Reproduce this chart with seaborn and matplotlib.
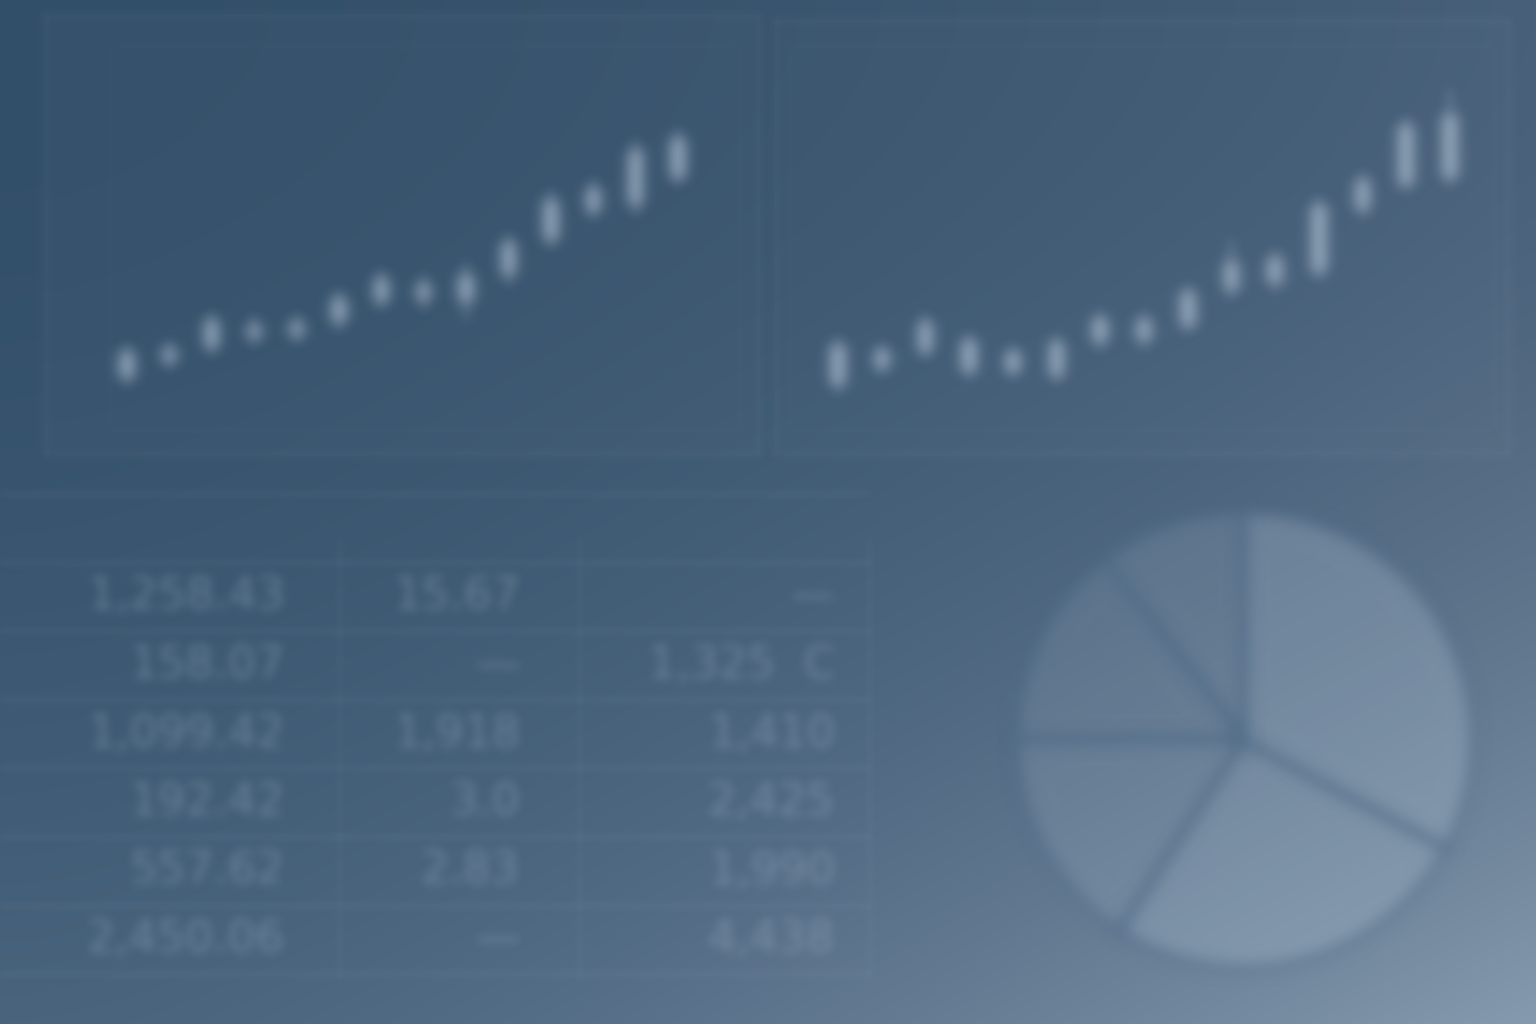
import numpy as np
import matplotlib
matplotlib.use("Agg")
import matplotlib.pyplot as plt
import seaborn as sns

# ---------------- data ----------------
left_open  = [15.5, 19.5, 23.0, 28.75, 26.0, 29.5, 34.5, 39.0, 34.5, 41.25, 50.0, 63.0, 58.75, 65.5]
left_close = [22.0, 23.0, 30.0, 25.5, 29.5, 35.5, 40.5, 35.0, 41.25, 49.5, 60.0, 57.0, 72.5, 75.5]
left_high  = [23.75, 24.5, 31.5, 31.0, 31.25, 37.5, 42.5, 41.25, 44.5, 51.25, 62.5, 65.0, 75.0, 77.5]
left_low   = [13.75, 18.0, 21.5, 23.75, 24.5, 27.5, 33.0, 32.5, 30.0, 38.75, 48.0, 55.5, 56.25, 63.75]

right_open  = [13.75, 18.0, 22.0, 25.0, 22.0, 16.0, 24.5, 30.0, 28.5, 37.5, 45.5, 42.0, 57.5, 63.75, 65.5]
right_close = [23.75, 22.5, 29.5, 17.0, 17.0, 24.5, 30.5, 25.0, 37.0, 44.5, 39.25, 58.75, 65.0, 78.75, 81.25]
right_high  = [25.5, 24.0, 31.25, 26.5, 23.5, 26.0, 32.0, 32.0, 38.75, 50.0, 47.5, 60.5, 67.0, 80.5, 87.5]
right_low   = [12.0, 16.5, 20.5, 15.5, 15.5, 14.5, 22.5, 23.0, 27.0, 35.5, 37.5, 40.0, 56.0, 62.5, 63.75]

table_col1 = ["1,258.43", "158.07", "1,099.42", "192.42", "557.62", "2,450.06"]
table_col2 = ["15.67", "—", "1,918", "3.0", "2.83", "—"]
table_col3 = ["—", "1,325  C", "1,410", "2,425", "1,990", "4,438"]

pie_shares = [10.6, 14.4, 15.8, 26.4, 32.8]

# ---------------- helpers ----------------
W_PX, H_PX = 1536, 1024


def rect(l, t, r, b):
    return [l / W_PX, 1 - b / H_PX, (r - l) / W_PX, (b - t) / H_PX]


def blur(sigma):
    def filt(im, dpi):
        s = sigma * dpi / 100.0
        pad = int(np.ceil(3 * s))
        k = np.exp(-0.5 * (np.arange(-pad, pad + 1) / s) ** 2)
        k /= k.sum()
        p = np.pad(im, ((pad, pad), (pad, pad), (0, 0)))
        a = p[..., 3:4]
        pm = np.concatenate([p[..., :3] * a, a], axis=2)
        for axis in (0, 1):
            out = np.zeros_like(pm)
            for i, w in enumerate(k):
                out += w * np.roll(pm, i - pad, axis=axis)
            pm = out
        a2 = pm[..., 3:4]
        rgb = pm[..., :3] / np.maximum(a2, 1e-6)
        res = np.concatenate([np.clip(rgb, 0, 1), a2], axis=2)
        return res, -pad, -pad
    return filt


sns.set_theme(style="white")
plt.rcParams["font.family"] = ["DejaVu Sans"]

fig = plt.figure(figsize=(15.36, 10.24), dpi=100)

# ---------------- background gradient ----------------
bg = fig.add_axes([0, 0, 1, 1], zorder=-10)
gh, gw = 256, 384
u = np.linspace(0, 1, gw)[None, :] ** 1.6
v = np.linspace(0, 1, gh)[:, None] ** 1.9
c_tl = np.array([0x32, 0x4f, 0x69]) / 255
c_tr = np.array([0x48, 0x60, 0x79]) / 255
c_bl = np.array([0x4a, 0x64, 0x7e]) / 255
c_br = np.array([0x86, 0x9a, 0xae]) / 255
grad = ((1 - u) * (1 - v))[..., None] * c_tl + (u * (1 - v))[..., None] * c_tr \
    + ((1 - u) * v)[..., None] * c_bl + (u * v)[..., None] * c_br
bg.imshow(grad, aspect="auto", extent=(0, 1, 0, 1), origin="upper", interpolation="bilinear")
bg.set_axis_off()

LINE_C = (0.75, 0.82, 0.90, 0.07)
CANDLE_C = "#b4c6d8"


def panel(frame_box, plot_box, o, c, h, l, xlim, ylim):
    fr = fig.add_axes(rect(*frame_box))
    fr.set_facecolor((1, 1, 1, 0.015))
    fr.set_xticks([]); fr.set_yticks([])
    for s in fr.spines.values():
        s.set_color(LINE_C); s.set_linewidth(4)
        s.set_agg_filter(blur(3.5))
    ax = fig.add_axes(rect(*plot_box))
    ax.set_facecolor((0, 0, 0, 0))
    x = np.arange(len(o))
    lo = np.minimum(o, c); hi = np.maximum(o, c)
    wk = ax.vlines(x, l, h, color=CANDLE_C, alpha=0.4, linewidth=3)
    bars = ax.bar(x, hi - lo, bottom=lo, width=0.36, color=CANDLE_C, alpha=0.66, linewidth=0)
    wk.set_agg_filter(blur(6))
    for b in bars:
        b.set_agg_filter(blur(7))
    ax.set_xlim(*xlim); ax.set_ylim(*ylim)
    ax.set_xticks([]); ax.set_yticks([])
    ax.grid(False)
    for s in ax.spines.values():
        s.set_color((0.75, 0.82, 0.9, 0.05)); s.set_linewidth(3)
        s.set_agg_filter(blur(3.5))
    return ax


panel((45, 15, 760, 455), (110, 45, 740, 430),
      left_open, left_close, left_high, left_low, (-0.4, 14.46), (2.5, 98.75))
panel((775, 20, 1510, 455), (790, 45, 1495, 430),
      right_open, right_close, right_high, right_low, (-1.1, 15.03), (2.5, 98.75))

# ---------------- table ----------------
tb = fig.add_axes(rect(0, 490, 880, 990))
tb.set_facecolor((0, 0, 0, 0))
tb.set_xlim(0, 880)
tb.set_ylim(5.73, -1.56)
tb.set_axis_off()
col_right = [285, 520, 835]
col_lines = [340, 580, 870]
for k in range(-1, 7):
    ln = tb.axhline(k - 0.5, xmin=0, xmax=870 / 880, color=(0.75, 0.82, 0.9, 0.08), linewidth=3)
    ln.set_agg_filter(blur(3.5))
for xv in col_lines:
    ln = tb.axvline(xv, ymin=0.02, ymax=0.9, color=(0.75, 0.82, 0.9, 0.06), linewidth=3)
    ln.set_agg_filter(blur(3.5))
for ci, col in enumerate([table_col1, table_col2, table_col3]):
    for ri, txt in enumerate(col):
        t = tb.text(col_right[ci], ri, txt, ha="right", va="center", fontsize=32,
                    color="#a3b6ca", alpha=0.42, fontfamily="DejaVu Sans")
        t.set_agg_filter(blur(5))

# ---------------- pie ----------------
pa = fig.add_axes(rect(1015, 510, 1475, 970))
pa.set_facecolor((0, 0, 0, 0))
alphas = [0.12, 0.11, 0.13, 0.2, 0.22]
cols = [(0.82, 0.88, 0.94, a) for a in alphas]
wedges, _ = pa.pie(pie_shares, startangle=90, counterclock=True, colors=cols, radius=0.99,
                   wedgeprops=dict(edgecolor=(0.30, 0.41, 0.52, 0.45), linewidth=7))
for w in wedges:
    w.set_agg_filter(blur(7))
pa.set_xlim(-1, 1); pa.set_ylim(-1, 1)
pa.set_aspect("equal")
pa.set_axis_off()

fig.savefig("out.png", dpi=100)
